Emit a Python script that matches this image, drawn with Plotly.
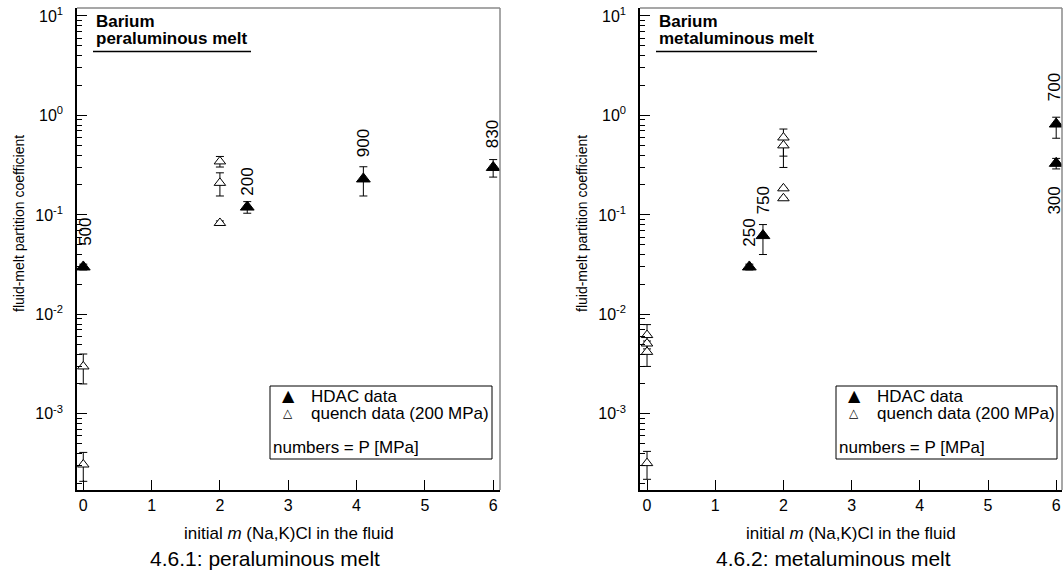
import numpy as np
import plotly.graph_objects as go

W, H = 1063, 583
FONT = "Liberation Sans, Arial, Helvetica, sans-serif"

# ---- peraluminous melt ----
per_hdac_x = [0.0, 2.4, 4.1, 6.0]
per_hdac_y = [0.030, 0.12, 0.23, 0.30]
per_hdac_err = [0.002, 0.016, 0.075, 0.06]
per_hdac_p = ["500", "200", "900", "830"]
per_label_y = [0.068, 0.217, 0.53, 0.65]

per_quench_x = [0.0, 0.0, 2.0, 2.0, 2.0]
per_quench_y = [0.003, 0.00031, 0.345, 0.21, 0.083]
per_quench_err = [0.001, 0.0001, 0.042, 0.055, 0.004]

# ---- metaluminous melt ----
met_hdac_x = [1.5, 1.7, 6.0, 6.0]
met_hdac_y = [0.030, 0.062, 0.82, 0.33]
met_hdac_err_up = [0.002, 0.018, 0.14, 0.04]
met_hdac_err_dn = [0.002, 0.022, 0.23, 0.04]
met_hdac_p = ["250", "750", "700", "300"]
met_label_y = [0.0667, 0.14, 1.93, 0.14]

met_quench_x = [0.0, 0.0, 0.0, 0.0, 2.0, 2.0, 2.0, 2.0]
met_quench_y = [0.0062, 0.0051, 0.0042, 0.00032, 0.60, 0.50, 0.185, 0.147]
met_quench_err_up = [0.0017, 0.0, 0.0012, 0.0001, 0.13, 0.0, 0.0, 0.0]
met_quench_err_dn = [0.0017, 0.0, 0.0012, 0.0001, 0.21, 0.20, 0.0, 0.0]

y_ticks = [10, 1, 0.1, 0.01, 0.001]
y_ticktext = ["10<sup>1</sup>", "10<sup>0</sup>", "10<sup>-1</sup>",
              "10<sup>-2</sup>", "10<sup>-3</sup>"]
x_ticks = [0, 1, 2, 3, 4, 5, 6]

minor_vals = [m * 10.0 ** e for e in range(-4, 1) for m in range(2, 10)]


def px_x(p):
    return p / W


def px_y(p):
    return 1 - p / H


def text(x, y, t, size, anchor="center", angle=0, family=FONT):
    return dict(xref="paper", yref="paper", x=px_x(x), y=px_y(y), text=t,
                showarrow=False, xanchor=anchor, yanchor="middle",
                textangle=angle, font=dict(family=family, size=size, color="black"))


fig = go.Figure()


def add_series(xa, ya, x, y, up, dn, filled):
    fig.add_trace(go.Scatter(
        x=x, y=y, mode="markers", xaxis=xa, yaxis=ya, showlegend=False,
        marker=dict(symbol="triangle-up", size=12 if filled else 10,
                    color="black" if filled else "white",
                    line=dict(color="black", width=1)),
        error_y=dict(type="data", array=up, arrayminus=dn, symmetric=False,
                     color="black", thickness=1, width=4),
    ))


add_series("x", "y", per_quench_x, per_quench_y, per_quench_err, per_quench_err, False)
add_series("x", "y", per_hdac_x, per_hdac_y, per_hdac_err, per_hdac_err, True)
add_series("x2", "y2", met_quench_x, met_quench_y, met_quench_err_up, met_quench_err_dn, False)
add_series("x2", "y2", met_hdac_x, met_hdac_y, met_hdac_err_up, met_hdac_err_dn, True)

ydom = [px_y(490), px_y(8)]
xdom1 = [px_x(77), px_x(500)]
xdom2 = [px_x(640), px_x(1062)]

xcommon = dict(tickmode="array", tickvals=x_ticks, ticks="inside", ticklen=10,
               tickwidth=1, tickcolor="black", showline=True, linecolor="black",
               linewidth=2, showgrid=False, zeroline=False, automargin=False,
               tickfont=dict(family=FONT, size=16, color="black"))
ycommon = dict(type="log", range=[-3.765, 1.08], tickmode="array",
               tickvals=y_ticks, ticktext=y_ticktext, ticks="inside",
               ticklen=10, tickwidth=1, tickcolor="black", showline=True,
               linecolor="black", linewidth=1.5, showgrid=False,
               zeroline=False, automargin=False, ticklabelstandoff=9,
               tickfont=dict(family=FONT, size=16, color="black"),
               minor=dict(tickmode="array", tickvals=minor_vals,
                          ticks="inside", ticklen=5, tickwidth=1,
                          tickcolor="black", showgrid=False))

fig.update_layout(
    width=W, height=H, margin=dict(l=0, r=0, t=0, b=0),
    paper_bgcolor="white", plot_bgcolor="white",
    font=dict(family=FONT, color="black"),
    xaxis=dict(domain=xdom1, range=[-0.092, 6.10], anchor="y", **xcommon),
    yaxis=dict(domain=ydom, anchor="x", **ycommon),
    xaxis2=dict(domain=xdom2, range=[-0.103, 6.085], anchor="y2", **xcommon),
    yaxis2=dict(domain=ydom, anchor="x2", **ycommon),
)

shapes = []
annotations = []

for (xl, xr) in [(77, 500), (640, 1062)]:
    # grey top and right frame
    shapes.append(dict(type="line", xref="paper", yref="paper",
                       x0=px_x(xl), x1=px_x(xr), y0=px_y(8), y1=px_y(8),
                       line=dict(color="#8a8a8a", width=1.5)))
    shapes.append(dict(type="line", xref="paper", yref="paper",
                       x0=px_x(xr), x1=px_x(xr), y0=px_y(8), y1=px_y(490),
                       line=dict(color="#8a8a8a", width=1.5)))

# panel titles
for x0, x1, name in [(93, 251, "peraluminous melt"), (656, 817, "metaluminous melt")]:
    annotations.append(text(x0 + 1, 22, "<b>Barium</b>", 17, anchor="left"))
    annotations.append(text(x0 + 1, 39, "<b>%s</b>" % name, 17, anchor="left"))
    shapes.append(dict(type="line", xref="paper", yref="paper",
                       x0=px_x(x0), x1=px_x(x1), y0=px_y(51.5), y1=px_y(51.5),
                       line=dict(color="black", width=1.5)))

# pressure labels
for xa, ya, xs, ys, labels, shifts in [
    ("x", "y", per_hdac_x, per_label_y, per_hdac_p, [2, 0, 0, -1]),
    ("x2", "y2", met_hdac_x, met_label_y, met_hdac_p, [0, 0, -2, -2]),
]:
    for x, y, t, s in zip(xs, ys, labels, shifts):
        annotations.append(dict(xref=xa, yref=ya, x=x, y=np.log10(y), text=t,
                                textangle=-90, showarrow=False, xshift=s,
                                xanchor="center", yanchor="middle",
                                font=dict(family=FONT, size=17, color="black")))

# legend boxes
for bx0, bx1 in [(270, 492), (836, 1057)]:
    shapes.append(dict(type="rect", xref="paper", yref="paper",
                       x0=px_x(bx0), x1=px_x(bx1), y0=px_y(459), y1=px_y(386),
                       line=dict(color="black", width=1), fillcolor="white",
                       layer="below"))
    mx = bx0 + 18
    annotations.append(text(mx, 395, "▲", 16, family="DejaVu Sans"))
    annotations.append(text(mx, 413, "△", 12, family="DejaVu Sans"))
    annotations.append(text(mx + 21, 396, "HDAC data", 17, anchor="left"))
    annotations.append(text(mx + 21, 413, "quench data (200 MPa)", 17, anchor="left"))
    annotations.append(text(bx0 + 1, 447, "numbers = P [MPa]", 17, anchor="left"))

# axis titles and captions
for cx, ytx, cap_x, cap in [(288.5, 19, 265, "4.6.1: peraluminous melt"),
                             (851, 582, 833, "4.6.2: metaluminous melt")]:
    annotations.append(text(cx, 533, "initial <i>m</i> (Na,K)Cl in the fluid", 17))
    annotations.append(text(ytx, 224, "fluid-melt partition coefficient", 14, angle=-90))
    annotations.append(text(cap_x, 558, cap, 21))

fig.update_layout(shapes=shapes, annotations=annotations)
fig.write_html("out.html")
